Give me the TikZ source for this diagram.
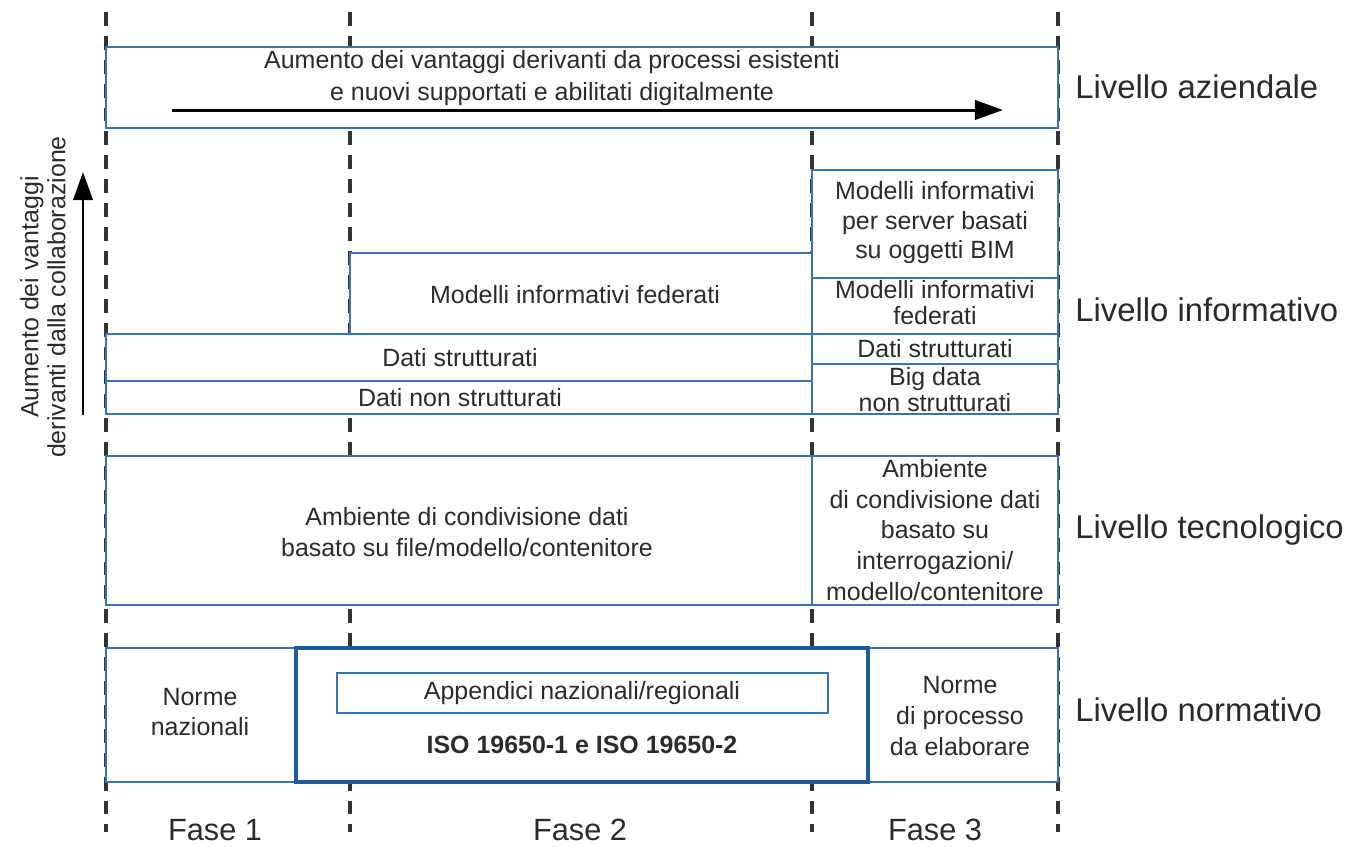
\documentclass[tikz,border=0pt]{standalone}
\usepackage{fontspec}
\setmainfont{Liberation Sans}
\usepackage{xcolor}
\usetikzlibrary{arrows.meta,positioning}
\definecolor{blu}{HTML}{3A74B0}
\definecolor{bluscuro}{HTML}{1E5B9B}
\definecolor{inchiostro}{HTML}{2B2B2B}
\tikzset{
  blk/.style={draw=blu,fill=white,line width=1.4pt},
  sep/.style={draw=blu,line width=0.9pt},
  isobox/.style={draw=bluscuro,fill=white,line width=2.8pt},
  txt/.style={font=\fontsize{14.2}{17.6}\selectfont,text=inchiostro,align=center,inner sep=0pt},
  txtk/.style={txt,font=\fontsize{14.2}{14.8}\selectfont},
  lev/.style={font=\fontsize{18.7}{22}\selectfont,text=inchiostro,anchor=west,inner sep=0pt},
  fase/.style={font=\fontsize{17.5}{21}\selectfont,text=inchiostro,inner sep=0pt},
  guide/.style={draw=black!80,line width=2pt,dash pattern=on 7.9pt off 5.7pt},
  arr/.style={-{Triangle[length=16pt,width=11pt]},line width=1.7pt,color=black},
}
\begin{document}
\begin{tikzpicture}[x=0.02cm,y=-0.02cm]
\useasboundingbox (0,0) rectangle (1352,846);
% phase guides
\foreach \x in {106,350,812,1058}
  \draw[guide] (\x,12) -- (\x,832);
% livello aziendale
\draw[blk] (106,47) rectangle (1058,128);
\node[txt,font=\fontsize{14.2}{18.7}\selectfont] (vantaggi) at (552,78) {Aumento dei vantaggi derivanti da processi esistenti\\e nuovi supportati e abilitati digitalmente};
\coordinate (a0) at (172,110);
\coordinate (a1) at (1003,110);
\draw[arr] (a0) -- (a1);
% livello informativo
\draw[blk] (106,414) -- (106,334) -- (350,334) -- (350,253) -- (812,253) -- (812,170) -- (1058,170) -- (1058,414) -- cycle;
\draw[sep] (106,334) -- (1058,334);
\draw[sep] (106,381) -- (812,381);
\draw[sep] (812,170) -- (812,414);
\draw[sep] (812,278) -- (1058,278);
\draw[sep] (812,364) -- (1058,364);
\node[txt] (federati) at (575,295) {Modelli informativi federati};
\node[txt] (strutt) at (460,358) {Dati strutturati};
\node[txt] (nonstrutt) at (460,398) {Dati non strutturati};
\node[txt,font=\fontsize{14.2}{16.8}\selectfont] (server) at (935,223) {Modelli informativi\\per server basati\\su oggetti BIM};
\node[txtk] (federatiB) at (935,303) {Modelli informativi\\federati};
\node[txt] (struttB) at (935,349) {Dati strutturati};
\node[txtk] (bigdata) at (935,390) {Big data\\non strutturati};
% livello tecnologico
\draw[blk] (106,456) rectangle (1058,605);
\draw[sep] (812,456) -- (812,605);
\node[txt] (cdeFile) at (467,532) {Ambiente di condivisione dati\\basato su file/modello/contenitore};
\node[txt] (cdeQuery) at (935,530) {Ambiente\\di condivisione dati\\basato su\\interrogazioni/\\modello/contenitore};
% livello normativo
\draw[blk] (106,648) rectangle (1058,782);
\draw[isobox] (296,648) rectangle (868,782);
\draw[sep] (337,673) rectangle (828,713);
\node[txt] (nazionali) at (200,712) {Norme\\nazionali};
\node[txt] (appendici) at (582,693) {Appendici nazionali/regionali};
\node[txt,font=\fontsize{14.2}{17.6}\selectfont\bfseries] (iso) at (582,745) {ISO 19650-1 e ISO 19650-2};
\node[txt] (processo) at (960,716) {Norme\\di processo\\da elaborare};
% collaborazione
\coordinate (b0) at (83,415);
\coordinate (b1) at (83,172);
\draw[arr] (b0) -- (b1);
\node[txt,font=\fontsize{14.2}{15.3}\selectfont,rotate=90] (collab) at (43,297) {Aumento dei vantaggi\\derivanti dalla collaborazione};
% livelli e fasi
\foreach \n/\y/\t in {azi/87/aziendale,inf/310/informativo,tec/530/tecnologico,nor/710/normativo}
  \node[lev] (\n) at (1075,\y) {Livello \t};
\foreach \i/\x in {1/215,2/580,3/935}
  \node[fase] (fase\i) at (\x,830) {Fase \i};
\end{tikzpicture}
\end{document}
